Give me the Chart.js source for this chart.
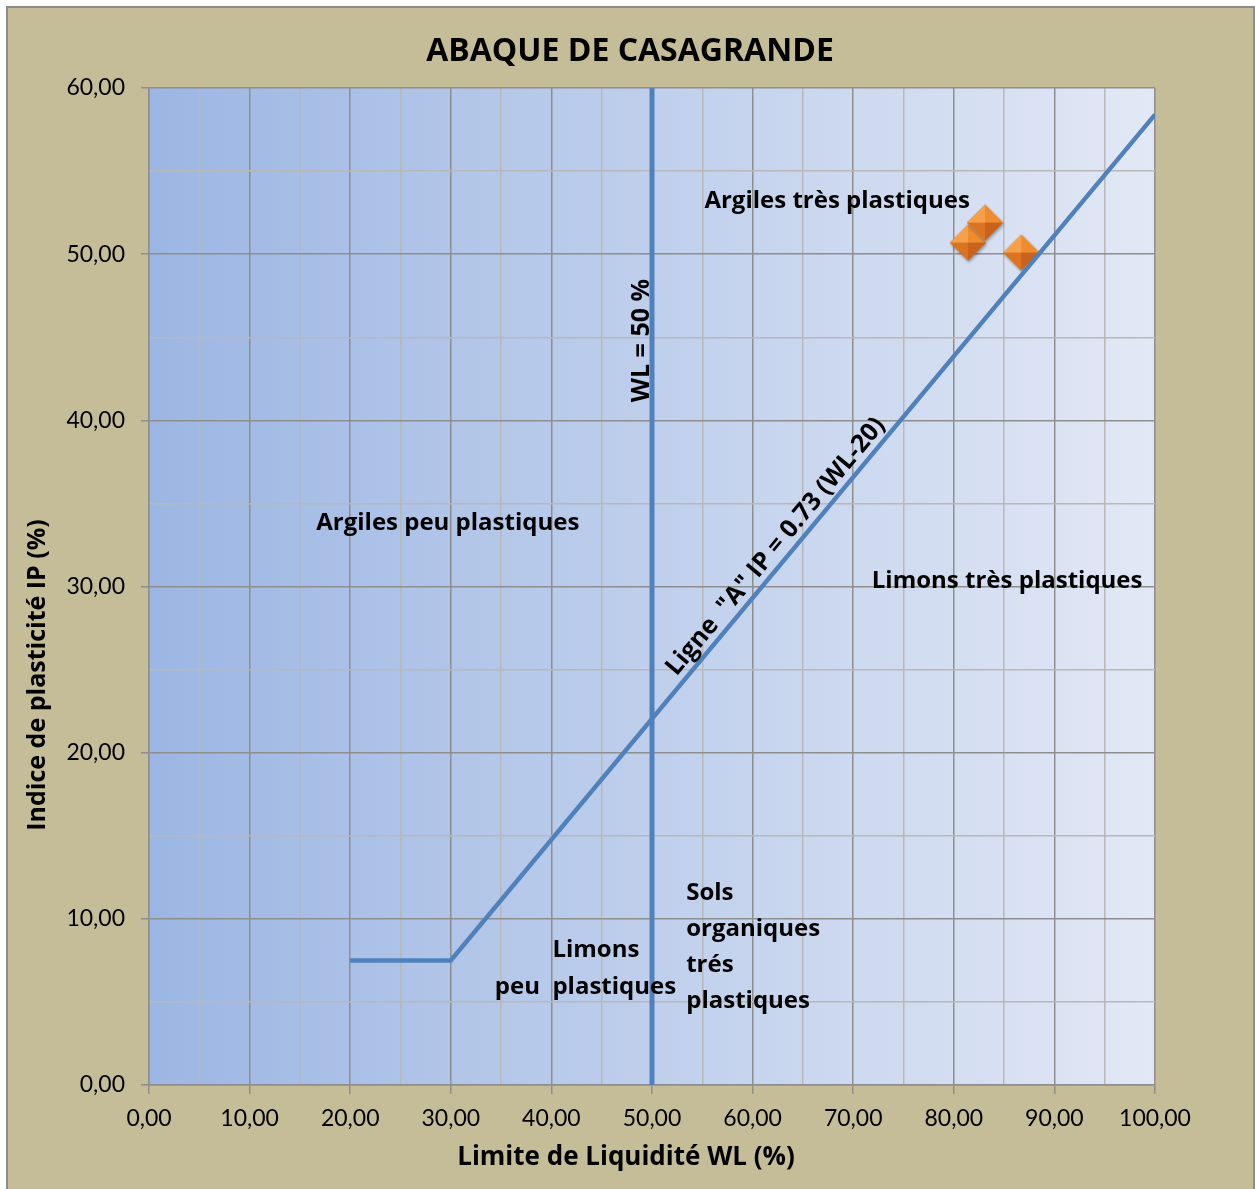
<!DOCTYPE html>
<html><head><meta charset="utf-8">
<script src="https://cdn.jsdelivr.net/npm/chart.js@4/dist/chart.umd.min.js"></script>
<style>html,body{margin:0;padding:0;background:#fff;}#wrap{width:1255px;height:1189px;position:relative;}</style>
</head><body><div id="wrap"><canvas id="c" width="1255" height="1189"></canvas></div>
<script>
// ---------- data ----------
const chartTitle = 'ABAQUE DE CASAGRANDE';
const xAxisTitle = 'Limite de Liquidité WL (%)';
const yAxisTitle = 'Indice de plasticité IP (%)';
const xTickLabels = ['0,00','10,00','20,00','30,00','40,00','50,00','60,00','70,00','80,00','90,00','100,00'];
const yTickLabels = ['0,00','10,00','20,00','30,00','40,00','50,00','60,00'];
// Ligne "A"
const aLineWL = [20, 30, 100];
const aLineIP = [7.5, 7.5, 58.4];
// WL = 50 %
const wl50WL = [50, 50];
const wl50IP = [0, 60];
// samples
const sampleWL = [81.4, 83.1, 86.7];
const sampleIP = [50.7, 51.9, 50.1];
// zone labels (anchor in data units)
const zoneText = ['Argiles très plastiques','Argiles peu plastiques','Limons très plastiques','Limons','peu  plastiques','Sols\norganiques\ntrés\nplastiques','WL = 50 %','Ligne  "A" IP = 0.73 (WL-20)'];
const zoneWL   = [68.4, 29.7, 85.3, 40.1, 52.4, 53.4, 49.0, 62.3];
const zoneIP   = [53.2, 33.8, 30.3, 8.1, 5.9, 11.55, 44.8, 32.4];

// ---------- styles ----------
const FONT = 'Lato, "Open Sans", sans-serif';
const BFONT = '"Open Sans", Lato, sans-serif';
const zoneAlign = ['center','center','center','left','right','left','center','center'];
const zoneRot   = ['none','none','none','none','none','none','vertical','aline'];

function toPts(xs, ys){ return xs.map((x,i)=>({x:x, y:ys[i]})); }

function makeDiamond(r){
  const s = Math.ceil(r*2)+8;
  const c = document.createElement('canvas'); c.width = s; c.height = s;
  const g = c.getContext('2d'); const cx = s/2, cy = s/2;
  const L=[cx-r,cy], T=[cx,cy-r], R=[cx+r,cy], B=[cx,cy+r], C=[cx,cy];
  g.save();
  g.shadowColor='rgba(0,0,0,0.35)'; g.shadowBlur=3; g.shadowOffsetX=1; g.shadowOffsetY=2;
  g.beginPath(); g.moveTo(...L); g.lineTo(...T); g.lineTo(...R); g.lineTo(...B); g.closePath();
  g.fillStyle='#d46c1c'; g.fill(); g.restore();
  const facet=(a,b,col)=>{g.beginPath();g.moveTo(...C);g.lineTo(...a);g.lineTo(...b);g.closePath();g.fillStyle=col;g.fill();};
  facet(L,T,'#f7a04a'); facet(T,R,'#f08c30'); facet(R,B,'#c9621a'); facet(B,L,'#dc7322');
  return c;
}
const diamond = makeDiamond(18);

const bgPlugin = {
  id:'bg',
  beforeDraw(chart){
    const {ctx, chartArea:a} = chart;
    ctx.save();
    ctx.fillStyle='#c4bd98'; ctx.fillRect(7,7,1247,1190);
    ctx.strokeStyle='#8c8c8c'; ctx.lineWidth=2; ctx.strokeRect(7,7,1247,1192);
    const gr = ctx.createLinearGradient(a.left,0,a.right,0);
    gr.addColorStop(0,'#9cb6e3'); gr.addColorStop(1,'#e2e8f5');
    ctx.fillStyle=gr; ctx.fillRect(a.left,a.top,a.right-a.left,a.bottom-a.top);
    ctx.restore();
  }
};

const textPlugin = {
  id:'texts',
  afterDatasetsDraw(chart){
    const {ctx, scales:{x,y}} = chart;
    ctx.save();
    ctx.fillStyle='#000';
    ctx.textBaseline='middle';
    zoneText.forEach((t,i)=>{
      const px = x.getPixelForValue(zoneWL[i]), py = y.getPixelForValue(zoneIP[i]);
      ctx.save(); ctx.translate(px,py);
      ctx.font = 'bold 24px '+BFONT;
      if(zoneRot[i]==='vertical'){ ctx.rotate(-Math.PI/2); ctx.font = 'bold 25px '+BFONT; }
      else if(zoneRot[i]==='aline'){
        const dx = x.getPixelForValue(aLineWL[2])-x.getPixelForValue(aLineWL[1]);
        const dy = y.getPixelForValue(aLineIP[2])-y.getPixelForValue(aLineIP[1]);
        ctx.rotate(Math.atan2(dy,dx));
        ctx.font = 'bold 25px '+BFONT;
      }
      ctx.textAlign = zoneAlign[i];
      t.split('\n').forEach((line,k)=>ctx.fillText(line,0,k*36));
      ctx.restore();
    });
    // titles
    ctx.textAlign='center';
    ctx.font='bold 32px '+BFONT; ctx.fillText(chartTitle,630,52);
    ctx.font='bold 26px '+BFONT; ctx.fillText(xAxisTitle,626,1158);
    ctx.font='bold 25px '+BFONT;
    ctx.save(); ctx.translate(38,675); ctx.rotate(-Math.PI/2); ctx.fillText(yAxisTitle,0,0); ctx.restore();
    ctx.restore();
  }
};

const major = v => Math.round(v) % 10 === 0;
const gridCol = c => (c.tick && major(c.tick.value)) ? '#8e8e8e' : '#b8b8b8';
const tickCol = c => (c.tick && major(c.tick.value)) ? '#8e8e8e' : 'rgba(0,0,0,0)';

new Chart(document.getElementById('c'), {
  type:'scatter',
  data:{ datasets:[
    { label:'Ligne A', data: toPts(aLineWL,aLineIP), showLine:true, borderColor:'#4f81bd', borderWidth:4.5, pointRadius:0, fill:false },
    { label:'WL 50', data: toPts(wl50WL,wl50IP), showLine:true, borderColor:'#4f81bd', borderWidth:5, pointRadius:0, fill:false },
    { label:'Echantillons', data: toPts(sampleWL,sampleIP), showLine:false, pointStyle: diamond, pointRadius:18 }
  ]},
  options:{
    responsive:false, devicePixelRatio:1, animation:false,
    layout:{ padding:{ top:88, right:100, left:0, bottom:0 } },
    plugins:{ legend:{display:false}, tooltip:{enabled:false}, title:{display:false} },
    scales:{
      x:{ type:'linear', min:0, max:100,
        ticks:{ stepSize:5, autoSkip:false, maxRotation:0, padding:11, color:'#000', font:{family:FONT,size:23},
          callback:(v)=> major(v) ? xTickLabels[Math.round(v/10)] : '' },
        grid:{ color:gridCol, lineWidth:1.5, tickColor:tickCol, tickLength:9, tickWidth:1.5 },
        border:{ color:'#8e8e8e', width:1.5 },
        afterFit:(s)=>{ s.height = 104; }
      },
      y:{ type:'linear', min:0, max:60,
        ticks:{ stepSize:5, autoSkip:false, padding:16, color:'#000', font:{family:FONT,size:23},
          callback:(v)=> major(v) ? yTickLabels[Math.round(v/10)] : '' },
        grid:{ color:gridCol, lineWidth:1.5, tickColor:tickCol, tickLength:8, tickWidth:1.5 },
        border:{ color:'#8e8e8e', width:1.5 },
        afterFit:(s)=>{ s.width = 149; }
      }
    }
  },
  plugins:[bgPlugin, textPlugin]
});
</script></body></html>
